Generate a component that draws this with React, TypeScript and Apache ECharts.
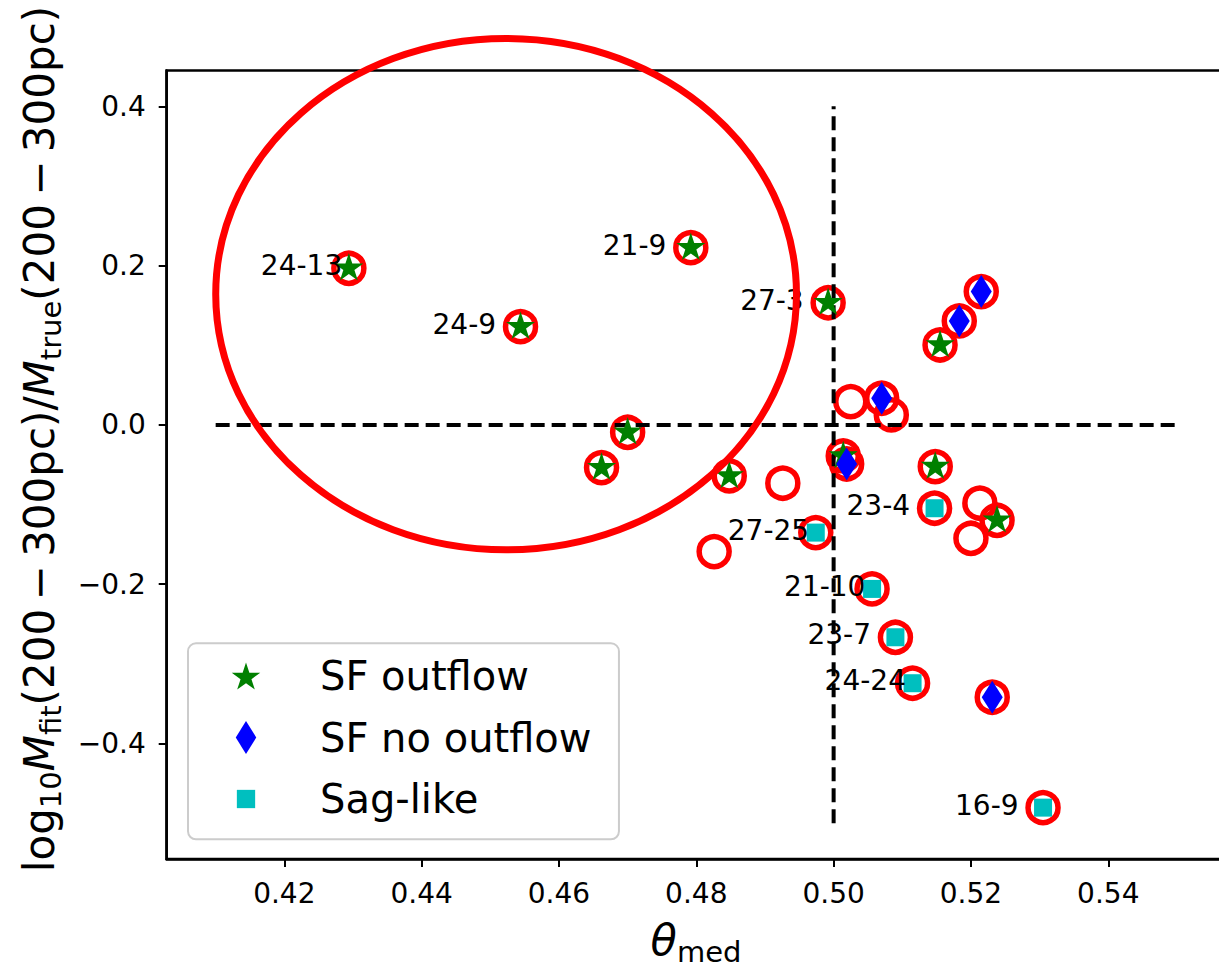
import React, { useEffect, useRef } from 'react';
import * as echarts from 'echarts';

// ---------- data ----------
const sfOutflowX = [0.4294, 0.4544, 0.4792, 0.4992, 0.4700, 0.4662, 0.4848, 0.5155, 0.5014, 0.5148, 0.5238];
const sfOutflowY = [0.1967, 0.1234, 0.2226, 0.1534, -0.0092, -0.0536, -0.0640, 0.1004, -0.0389, -0.0523, -0.1197];
const sfOutflowNames = ['24-13', '24-9', '21-9', '27-3', '', '', '', '', '', '', ''];

const sfNoOutflowX = [0.5215, 0.5183, 0.5070, 0.5019, 0.5231];
const sfNoOutflowY = [0.1674, 0.1306, 0.0335, -0.0490, -0.3419];

const sagX = [0.4974, 0.5147, 0.5056, 0.5090, 0.5115, 0.5305];
const sagY = [-0.1352, -0.1046, -0.2059, -0.2666, -0.3243, -0.4805];
const sagNames = ['27-25', '23-4', '21-10', '23-7', '24-24', '16-9'];

const otherX = [0.4926, 0.4826, 0.5025, 0.5084, 0.5213, 0.5200];
const otherY = [-0.0732, -0.1590, 0.0293, 0.0126, -0.0983, -0.1423];

const hLineX = [0.41, 0.55];
const hLineY = [0.0, 0.0];
const vLineX = [0.5, 0.5];
const vLineY = [-0.5, 0.4];

const xTicks = [0.42, 0.44, 0.46, 0.48, 0.50, 0.52, 0.54];
const yTicks = [-0.4, -0.2, 0.0, 0.2, 0.4];
const xRange = [0.40287, 0.557];
const yRange = [-0.545, 0.445];

// highlighted region (ellipse) in data units: center x, center y, radius x, radius y
const ellipseCenter = [0.4523, 0.1642];
const ellipseRadius = [0.04229, 0.321];

const legendNames = ['SF outflow', 'SF no outflow', 'Sag-like'];

// ---------- helpers ----------
const FONT = 'DejaVu Sans';

function starD(cx: number, cy: number, r: number): string {
  const ri = r * 0.381966;
  const pts: string[] = [];
  for (let k = 0; k < 10; k++) {
    const ang = (-90 + 36 * k) * Math.PI / 180;
    const rr = k % 2 === 0 ? r : ri;
    pts.push(`${(cx + rr * Math.cos(ang)).toFixed(3)} ${(cy + rr * Math.sin(ang)).toFixed(3)}`);
  }
  return 'M' + pts.join(' L') + ' Z';
}

const zip = (xs: number[], ys: number[]) => xs.map((x, i) => [x, ys[i]]);

export default function App() {
  const ref = useRef<HTMLDivElement>(null);

  useEffect(() => {
    const chart = echarts.init(ref.current!, null, { renderer: 'svg' });

    const starSymbol = 'path://M0 15 ' + starD(0, 0, 15);
    const legendStar = 'path://M0 0 M30 34 ' + starD(15, 18.4, 15);
    const legendDiamond = 'path://M0 0 M30 34 M15 0.5 L25.25 17 L15 33.5 L4.75 17 Z';
    const legendSquare = 'path://M0 0 M30 34 M5.85 7.85 L24.15 7.85 L24.15 26.15 L5.85 26.15 Z';

    const allRings = [
      ...zip(sfOutflowX, sfOutflowY),
      ...zip(sfNoOutflowX, sfNoOutflowY),
      ...zip(sagX, sagY),
      ...zip(otherX, otherY),
    ];

    const labelPts: any[] = [];
    sfOutflowX.forEach((x, i) => { if (sfOutflowNames[i]) labelPts.push([x, sfOutflowY[i], sfOutflowNames[i]]); });
    sagX.forEach((x, i) => { if (sagNames[i]) labelPts.push([x, sagY[i], sagNames[i]]); });

    const fmtY = (v: number) => (v < -1e-9 ? '\u2212' : '') + Math.abs(v).toFixed(1);
    const SP = '\u2009';

    const option: any = {
      animation: false,
      backgroundColor: '#ffffff',
      textStyle: { fontFamily: FONT },
      grid: {
        left: 166.7, top: 70.5, width: 1058.3, height: 788.5,
        show: true, borderColor: '#000', borderWidth: 2.5, backgroundColor: 'rgba(0,0,0,0)',
        containLabel: false, outerBoundsMode: 'none',
      },
      xAxis: {
        type: 'value', min: xRange[0], max: xRange[1],
        splitLine: { show: false },
        axisLine: { show: true, onZero: false, lineStyle: { color: '#000', width: 2.5 } },
        axisTick: { show: true, customValues: xTicks, length: 8, lineStyle: { color: '#000', width: 2 } },
        axisLabel: {
          customValues: xTicks, formatter: (v: number) => v.toFixed(2),
          fontSize: 28, fontFamily: FONT, color: '#000', margin: 20,
        },
      },
      yAxis: {
        type: 'value', min: yRange[0], max: yRange[1],
        splitLine: { show: false },
        axisLine: { show: true, onZero: false, lineStyle: { color: '#000', width: 2.5 } },
        axisTick: { show: true, customValues: yTicks, length: 8, lineStyle: { color: '#000', width: 2 } },
        axisLabel: {
          customValues: yTicks, formatter: fmtY,
          fontSize: 28, fontFamily: FONT, color: '#000', margin: 21,
        },
      },
      legend: {
        orient: 'vertical', left: 188, top: 643.3,
        padding: [10.7, 27.4, 18.3, 43],
        itemWidth: 30, itemHeight: 34, itemGap: 17.5,
        backgroundColor: 'rgba(255,255,255,0.8)', borderColor: '#cccccc', borderWidth: 2, borderRadius: 8,
        textStyle: { fontSize: 40, fontFamily: FONT, color: '#000', lineHeight: 44, padding: [0, 0, 0, 54] },
        selectedMode: false,
        data: [
          { name: legendNames[0], icon: legendStar, itemStyle: { opacity: 1 } },
          { name: legendNames[1], icon: legendDiamond, itemStyle: { opacity: 1 } },
          { name: legendNames[2], icon: legendSquare, itemStyle: { opacity: 1 } },
        ],
      },
      series: [
        {
          type: 'scatter', name: 'rings', data: allRings, symbol: 'circle', symbolSize: 30,
          itemStyle: { color: 'rgba(0,0,0,0)', borderColor: '#ff0000', borderWidth: 5.5, opacity: 1 },
          silent: true, z: 2,
        },
        {
          type: 'line', name: 'hline', data: zip(hLineX, hLineY), symbol: 'none', silent: true, z: 3,
          lineStyle: { color: '#000', width: 4, type: [14, 7], opacity: 1 },
        },
        {
          type: 'line', name: 'vline', data: zip(vLineX, vLineY), symbol: 'none', silent: true, z: 3,
          lineStyle: { color: '#000', width: 4, type: [14, 7], opacity: 1 },
        },
        {
          type: 'scatter', name: legendNames[0], data: zip(sfOutflowX, sfOutflowY),
          symbol: starSymbol, symbolSize: [29, 30.5], itemStyle: { color: '#008000', opacity: 1 }, silent: true, z: 4,
        },
        {
          type: 'scatter', name: legendNames[1], data: zip(sfNoOutflowX, sfNoOutflowY),
          symbol: 'diamond', symbolSize: [21, 33], itemStyle: { color: '#0000ff', opacity: 1 }, silent: true, z: 4,
        },
        {
          type: 'scatter', name: legendNames[2], data: zip(sagX, sagY),
          symbol: 'rect', symbolSize: 18, itemStyle: { color: '#00bfbf', opacity: 1 }, silent: true, z: 4,
        },
        {
          type: 'scatter', name: 'labels', data: labelPts, symbolSize: 1,
          itemStyle: { color: 'rgba(0,0,0,0)', opacity: 1 }, silent: true, z: 5,
          label: {
            show: true, formatter: (p: any) => p.data[2], position: [-87.5, -2],
            align: 'left', verticalAlign: 'middle', fontSize: 28, fontFamily: FONT, color: '#000', opacity: 1,
          },
        },
      ],
      graphic: [
        {
          type: 'text', id: 'xtitle', x: 696, y: 940, z: 10,
          style: {
            text: '{i|\u03b8}{s|med}', align: 'center', verticalAlign: 'middle', fill: '#000',
            rich: {
              i: { fontSize: 43, fontStyle: 'italic', fontFamily: FONT, lineHeight: 52 },
              s: { fontSize: 29, fontFamily: FONT, lineHeight: 26, verticalAlign: 'bottom' },
            },
          },
        },
        {
          type: 'text', id: 'ytitle', x: 39, y: 439, rotation: Math.PI / 2, z: 10,
          style: {
            text: `{n|log}{s|10}{i|M}{s|fit}{n|(200${SP}\u2212${SP}300pc)/}{i|M}{s|true}{n|(200${SP}\u2212${SP}300pc)}`,
            align: 'center', verticalAlign: 'middle', fill: '#000',
            rich: {
              n: { fontSize: 42, fontFamily: FONT, lineHeight: 52 },
              i: { fontSize: 42, fontStyle: 'italic', fontFamily: FONT, lineHeight: 52 },
              s: { fontSize: 29, fontFamily: FONT, lineHeight: 26, verticalAlign: 'bottom' },
            },
          },
        },
      ],
    };

    chart.setOption(option);

    const c = chart.convertToPixel({ gridIndex: 0 }, ellipseCenter) as number[];
    const ex = chart.convertToPixel({ gridIndex: 0 }, [ellipseCenter[0] + ellipseRadius[0], ellipseCenter[1] + ellipseRadius[1]]) as number[];
    chart.setOption({
      graphic: [
        {
          type: 'ellipse', id: 'region', z: 20, silent: true,
          shape: { cx: c[0], cy: c[1], rx: Math.abs(ex[0] - c[0]), ry: Math.abs(ex[1] - c[1]) },
          style: { fill: 'none', stroke: '#ff0000', lineWidth: 7 },
        },
      ],
    });

    return () => chart.dispose();
  }, []);

  return (
    <div
      ref={ref}
      style={{ position: 'absolute', left: 0, top: 0, width: 1219, height: 967, background: '#fff' }}
    />
  );
}
